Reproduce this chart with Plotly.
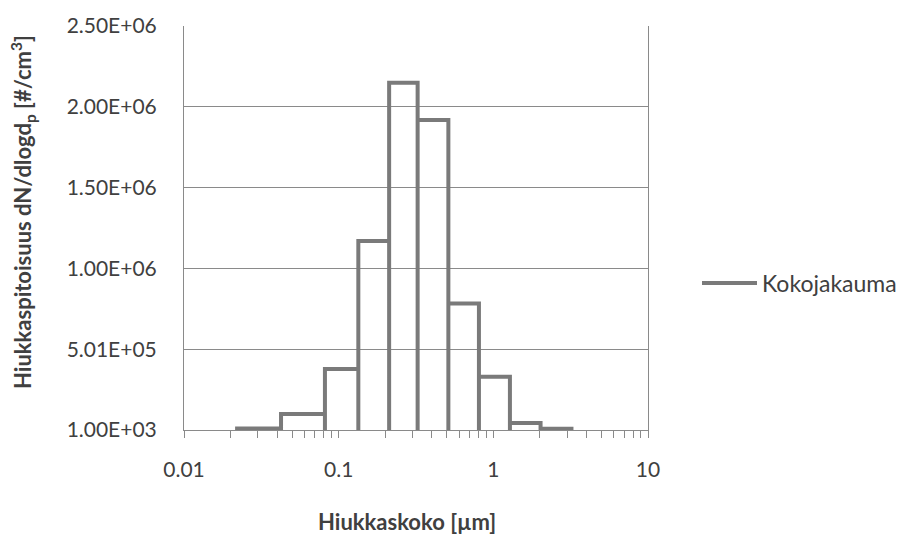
import plotly.graph_objects as go

# Bin edges (µm) and dN/dlogdp values (#/cm3)
bin_edges = [0.0214, 0.0424, 0.0815, 0.134, 0.212, 0.324, 0.512, 0.807, 1.28, 2.02, 3.2]
bin_values = [1.0e4, 1.0e5, 3.78e5, 1.17e6, 2.15e6, 1.92e6, 7.84e5, 3.3e5, 4.5e4, 8.0e3]
series_name = "Kokojakauma"

y_tick_vals = [1000, 501000, 1001000, 1501000, 2001000, 2501000]
y_tick_text = ["1.00E+03", "5.01E+05", "1.00E+06", "1.50E+06", "2.00E+06", "2.50E+06"]
x_tick_vals = [0.01, 0.1, 1, 10]
x_tick_text = ["0.01", "0.1", "1", "10"]

base = y_tick_vals[0]

# Build step outline from the bins
xs, ys = [], []
for i, h in enumerate(bin_values):
    left, right = bin_edges[i], bin_edges[i + 1]
    if i == 0:
        xs += [left, right, right]
        ys += [h, h, base]
    else:
        xs += [left, left, right, right]
        ys += [base, h, h, base]

TEXT = "#404040"
GRID = "#8a8a8a"
FONT = "Lato, 'Open Sans', sans-serif"

L, R, T, B = 184, 262, 26, 105
W, H = 910, 535
pw = W - L - R
ph = H - T - B


def px_to_paper(px, py):
    return (px - L) / pw, ((H - B) - py) / ph


fig = go.Figure()
fig.add_trace(go.Scatter(
    x=xs, y=ys, mode="lines", name=series_name,
    line=dict(color="#7a7a7a", width=4),
    showlegend=True,
))

lx, ly = px_to_paper(697, 283)
ax, ay = px_to_paper(407, 521)
bx, by = px_to_paper(23, 212)

fig.update_layout(
    width=W, height=H,
    margin=dict(l=L, r=R, t=T, b=B, autoexpand=False),
    paper_bgcolor="white", plot_bgcolor="white",
    font=dict(family=FONT, size=22, color=TEXT),
    legend=dict(x=lx, y=ly, xanchor="left", yanchor="middle",
                font=dict(size=23, color=TEXT), itemwidth=55,
                bgcolor="rgba(0,0,0,0)"),
    xaxis=dict(
        type="log", range=[-2, 1],
        tickvals=x_tick_vals, ticktext=x_tick_text,
        ticks="outside", ticklen=7, tickcolor=GRID, tickwidth=1,
        showline=True, linecolor=GRID, linewidth=1,
        showgrid=False, zeroline=False,
        ticklabelstandoff=14,
        tickfont=dict(size=21, color=TEXT),
        minor=dict(ticks="outside", ticklen=7, tickcolor=GRID,
                   dtick="D1", showgrid=False),
    ),
    yaxis=dict(
        range=[base, y_tick_vals[-1]],
        tickvals=y_tick_vals, ticktext=y_tick_text,
        ticks="", showline=True, linecolor=GRID, linewidth=1, mirror=True,
        showgrid=True, gridcolor=GRID, gridwidth=1, zeroline=False,
        ticklabelstandoff=22,
        tickfont=dict(size=21, color=TEXT),
    ),
    annotations=[
        dict(text="<b>Hiukkaskoko [µm]</b>", x=ax, y=ay, xref="paper", yref="paper",
             xanchor="center", yanchor="middle",
             showarrow=False, font=dict(size=22, color=TEXT)),
        dict(text="<b>Hiukkaspitoisuus dN/dlogd<sub>p</sub> [#/cm<sup>3</sup>]</b>",
             x=bx, y=by, xref="paper", yref="paper", showarrow=False, textangle=-90,
             xanchor="center", yanchor="middle",
             font=dict(size=22, color=TEXT)),
    ],
)

fig.write_html("out.html")
